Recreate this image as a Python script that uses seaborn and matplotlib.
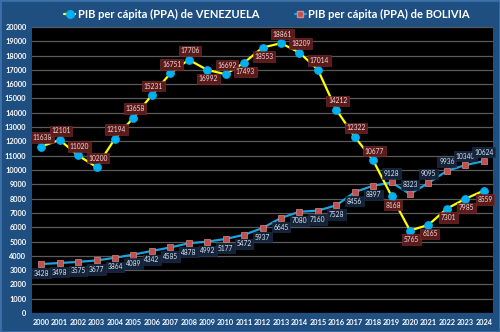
import matplotlib
matplotlib.use("Agg")
import matplotlib.pyplot as plt
import seaborn as sns
import pandas as pd
from matplotlib.lines import Line2D

years = [str(y) for y in range(2000, 2025)]
venezuela = [11638, 12101, 11020, 10200, 12194, 13658, 15231, 16751, 17706, 16992,
             16692, 17493, 18553, 18861, 18209, 17014, 14212, 12322, 10677, 8168,
             5765, 6165, 7301, 7985, 8559]
bolivia = [3428, 3498, 3575, 3677, 3864, 4089, 4342, 4585, 4878, 4992,
           5177, 5472, 5937, 6645, 7080, 7160, 7528, 8456, 8897, 9128,
           8323, 9095, 9936, 10340, 10624]
# label placement: 1 above, -1 below
ven_pos = [1, 1, 1, 1, 1, 1, 1, 1, 1, -1, 1, -1, -1, 1, 1, 1, 1, 1, 1, -1, -1, -1, -1, -1, -1]
bol_pos = [-1] * 19 + [1] * 6

sns.set_style("white")
plt.rcParams['font.family'] = ['Lato', 'DejaVu Sans']

BG = "#1f4e80"
fig = plt.figure(figsize=(5.0, 3.32), dpi=100, facecolor=BG)
ax = fig.add_axes([0.064, 0.057, 0.922, 0.862])
ax.set_facecolor("black")

df = pd.DataFrame({"year": years, "ven": venezuela, "bol": bolivia})
x = list(range(len(years)))
df["x"] = x

sns.lineplot(data=df, x="x", y="bol", ax=ax, color="#1ca3dc", linewidth=1.6,
             marker="s", markersize=4, markerfacecolor="#c0504d",
             markeredgecolor="#d98a88", markeredgewidth=0.5, zorder=3)
sns.lineplot(data=df, x="x", y="ven", ax=ax, color="#ffff00", linewidth=1.6,
             marker="o", markersize=5.5, markerfacecolor="#00b0f0",
             markeredgecolor="#00b0f0", zorder=4)

for i in x:
    ax.annotate(str(venezuela[i]), (i, venezuela[i]), xytext=(1, 6.5 * ven_pos[i]),
                textcoords="offset points", ha="center", va="center",
                fontsize=4.8, color="#f2dcdb", zorder=6,
                bbox=dict(boxstyle="square,pad=0.25", fc="#5c1a1a", ec="#7a3030", lw=0.4))
    ax.annotate(str(bolivia[i]), (i, bolivia[i]), xytext=(0, 6.5 * bol_pos[i]),
                textcoords="offset points", ha="center", va="center",
                fontsize=4.8, color="#dce6f2", zorder=5,
                bbox=dict(boxstyle="square,pad=0.25", fc="#14233a", ec="#1f3350", lw=0.4))

ax.set_xlim(-0.5, len(years) - 0.5)
ax.set_ylim(0, 20000)
ax.set_yticks(range(0, 20001, 1000))
ax.set_xticks(x)
ax.set_xticklabels(years)
ax.tick_params(axis="both", length=0, labelsize=5.3, labelcolor="white", pad=4)
for lab in ax.get_xticklabels() + ax.get_yticklabels():
    lab.set_fontweight("bold")
ax.set_xlabel("")
ax.set_ylabel("")
ax.grid(axis="y", color="#5a5a5a", linewidth=0.9)
ax.set_axisbelow(True)
for s in ax.spines.values():
    s.set_visible(False)

handles = [
    Line2D([0], [0], color="#ffff00", lw=1.6, marker="o", markersize=5.5,
           markerfacecolor="#00b0f0", markeredgecolor="#00b0f0"),
    Line2D([0], [0], color="#1ca3dc", lw=1.6, marker="s", markersize=4,
           markerfacecolor="#c0504d", markeredgecolor="#d98a88"),
]
fig.legend(handles, ["PIB per cápita (PPA) de VENEZUELA", "PIB per cápita (PPA) de BOLIVIA"],
           loc="center", bbox_to_anchor=(0.534, 0.957), ncol=2, frameon=False,
           prop={"weight": "bold", "size": 8}, labelcolor="white",
           handlelength=1.0, handletextpad=0.2, columnspacing=3.2)

fig.patches.append(plt.Rectangle((0, 0), 1, 1, transform=fig.transFigure,
                                 fill=False, ec="#3d6fa8", lw=2, zorder=10))
fig.savefig("out.png", dpi=100, facecolor=BG)
